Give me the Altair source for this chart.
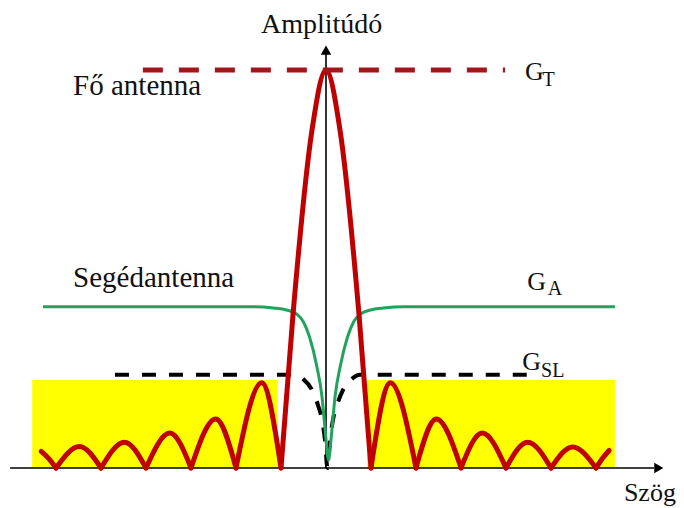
import altair as alt
import pandas as pd

# Angle in units of the side-lobe spacing, amplitude normalised to main-lobe peak (G_T = 1)
main_u = [-1.0, -0.73, -0.31, 0.0, 0.31, 0.73, 1.0]
main_v = [0.0, 0.39, 0.85, 1.0, 0.85, 0.39, 0.0]

side_peak_u = [-5.48, -4.48, -3.47, -2.45, -1.43, 1.43, 2.45, 3.47, 4.48, 5.48]
side_peak_v = [0.054, 0.065, 0.088, 0.123, 0.214, 0.214, 0.123, 0.088, 0.065, 0.053]
side_null_lo = [-6, -5, -4, -3, -2, 1, 2, 3, 4, 5]
side_null_hi = [-5, -4, -3, -2, -1, 2, 3, 4, 5, 6]

edge_left_u = [-6.33, -6.17, -6.0]
edge_left_v = [0.042, 0.025, 0.0]
edge_right_u = [6.0, 6.15, 6.29]
edge_right_v = [0.0, 0.025, 0.044]

# Auxiliary antenna (Segédantenna) pattern
green_u = [-6.29, -1.611, -1.166, -0.877, -0.655, -0.500, -0.366, -0.211, -0.088, -0.033, 0.012,
           0.056, 0.100, 0.145, 0.200, 0.323, 0.478, 0.612, 0.767, 0.989, 1.278, 1.723, 6.42]
green_v = [0.405, 0.405, 0.402, 0.397, 0.387, 0.367, 0.329, 0.259, 0.178, 0.113, 0.058,
           0.020, 0.058, 0.113, 0.178, 0.259, 0.329, 0.367, 0.387, 0.397, 0.402, 0.405, 0.405]

# G_SL threshold (black dashed)
gsl_u = [-4.69, -0.689, -0.511, -0.311, -0.178, -0.089, -0.023, 0.033,
         0.089, 0.155, 0.244, 0.377, 0.577, 0.755, 4.73]
gsl_v = [0.234, 0.234, 0.224, 0.196, 0.158, 0.121, 0.070, 0.0,
         0.070, 0.121, 0.158, 0.196, 0.224, 0.234, 0.234]

# G_T level (red dashed)
gt_u = [-4.07, 3.98]
gt_v = [1.0, 1.0]

# Side-lobe regions (yellow)
box_u0 = [-6.53, 0.91]
box_u1 = [-1.07, 6.42]
box_top = [0.221, 0.221]

# Axes
xaxis_u = [-7.02, 7.29]
yaxis_v = [0.0, 1.04]
arrow_u = [0.0, 7.396]
arrow_v = [1.050, 0.0]
arrow_shape = ["triangle-up", "triangle-right"]

# Labels
label_text = ["Amplitúdó", "Fő antenna", "Segédantenna", "Szög",
              "G", "T", "G", "A", "G", "SL"]
label_u = [-1.444, -5.62, -5.62, 6.62, 4.42, 4.81, 4.47, 4.93, 4.36, 4.78]
label_v = [1.093, 0.937, 0.455, -0.083, 0.975, 0.960, 0.447, 0.435, 0.246, 0.229]
label_fs = [28, 29, 29, 26, 26, 20, 26, 20, 26, 20]

XS = alt.Scale(domain=[-7.067, 7.778], nice=False, zero=False)
YS = alt.Scale(domain=[-0.1005, 1.1558], nice=False, zero=False)


def X(f="u"):
    return alt.X(f"{f}:Q", scale=XS, axis=None)


def Y(f="v"):
    return alt.Y(f"{f}:Q", scale=YS, axis=None)


# Red main-antenna pattern, one group per lobe
rows = []
for u, v in zip(main_u, main_v):
    rows.append({"lobe": "main", "u": u, "v": v})
for i, (lo, pu, pv, hi) in enumerate(zip(side_null_lo, side_peak_u, side_peak_v, side_null_hi)):
    rows += [{"lobe": f"s{i}", "u": lo, "v": 0.0},
             {"lobe": f"s{i}", "u": pu, "v": pv},
             {"lobe": f"s{i}", "u": hi, "v": 0.0}]
for u, v in zip(edge_left_u, edge_left_v):
    rows.append({"lobe": "eL", "u": u, "v": v})
for u, v in zip(edge_right_u, edge_right_v):
    rows.append({"lobe": "eR", "u": u, "v": v})
red_df = pd.DataFrame(rows)

boxes = alt.Chart(pd.DataFrame({"u0": box_u0, "u1": box_u1, "top": box_top, "b": [0.0, 0.0]})).mark_rect(
    color="#FFFF00").encode(x=X("u0"), x2="u1:Q", y=Y("b"), y2="top:Q")

xaxis = alt.Chart(pd.DataFrame({"u0": [xaxis_u[0]], "u1": [xaxis_u[1]], "v": [0.0]})).mark_rule(
    color="black", strokeWidth=1.6).encode(x=X("u0"), x2="u1:Q", y=Y("v"))
yaxis = alt.Chart(pd.DataFrame({"u": [0.0], "v0": [yaxis_v[0]], "v1": [yaxis_v[1]]})).mark_rule(
    color="black", strokeWidth=1.6).encode(x=X("u"), y=Y("v0"), y2="v1:Q")

arrows = alt.Chart(pd.DataFrame({"u": arrow_u, "v": arrow_v, "shape": arrow_shape})).mark_point(
    filled=True, color="black", opacity=1, size=110).encode(
    x=X(), y=Y(), shape=alt.Shape("shape:N", scale=None))

gsl_line = alt.Chart(pd.DataFrame({"u": gsl_u, "v": gsl_v})).mark_line(
    color="black", strokeWidth=4, strokeDash=[14, 13], interpolate="monotone").encode(x=X(), y=Y())

green = alt.Chart(pd.DataFrame({"u": green_u, "v": green_v})).mark_line(
    color="#22A25C", strokeWidth=3, interpolate="monotone").encode(x=X(), y=Y())

red = alt.Chart(red_df).mark_line(
    color="#C00000", strokeWidth=5, interpolate="monotone", strokeCap="round", strokeJoin="round").encode(
    x=X(), y=Y(), detail="lobe:N")

gt_line = alt.Chart(pd.DataFrame({"u": gt_u, "v": gt_v})).mark_line(
    color="#A3141B", strokeWidth=5, strokeDash=[20, 16]).encode(x=X(), y=Y())

labels = alt.Chart(pd.DataFrame({"t": label_text, "u": label_u, "v": label_v, "fs": label_fs})).mark_text(
    font="Liberation Serif", align="left", baseline="alphabetic", color="#111111").encode(
    x=X(), y=Y(), text="t:N", size=alt.Size("fs:Q", scale=None))

chart = alt.layer(boxes, xaxis, yaxis, gsl_line, green, red, gt_line, arrows, labels).properties(
    width=668, height=500, padding=0, background="white",
    autosize=alt.AutoSizeParams(type="none")
).configure_view(stroke=None)

chart.save("out.html", embed_options={"renderer": "svg", "actions": False})
